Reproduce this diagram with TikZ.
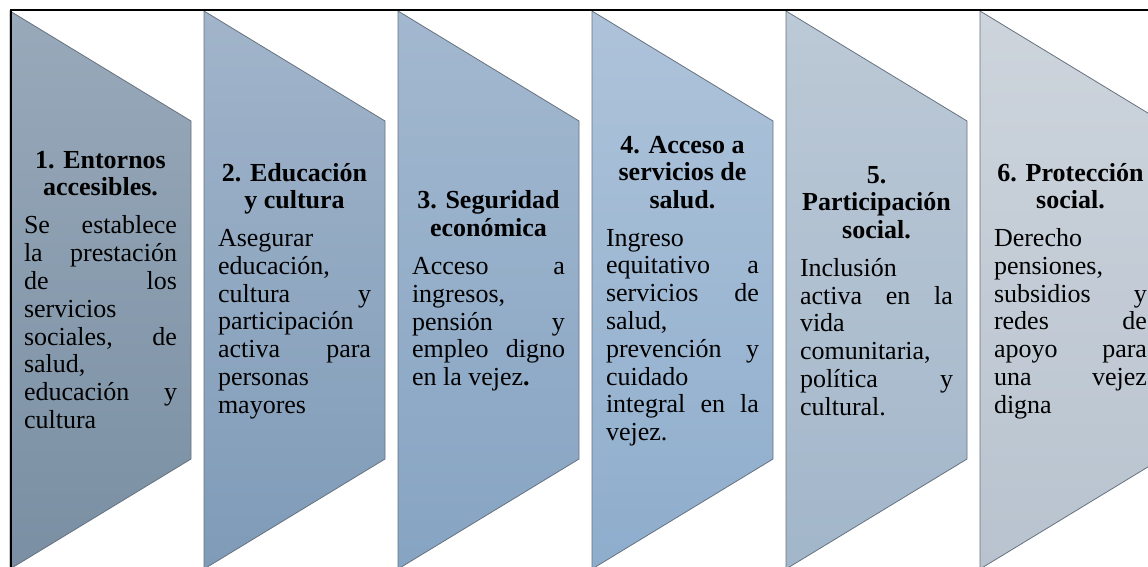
\documentclass[tikz,border=0pt]{standalone}
\usepackage{fontspec}
\setmainfont{Liberation Serif}
\setlength{\parindent}{0pt}
\definecolor{shapeline}{HTML}{66727F}
\definecolor{cAt}{HTML}{98A9BA}\definecolor{cAb}{HTML}{7A8FA3}
\definecolor{cBt}{HTML}{A1B4CA}\definecolor{cBb}{HTML}{7F9BB8}
\definecolor{cCt}{HTML}{A3B8CF}\definecolor{cCb}{HTML}{86A4C3}
\definecolor{cDt}{HTML}{AEC3DA}\definecolor{cDb}{HTML}{8EADCC}
\definecolor{cEt}{HTML}{BCC9D6}\definecolor{cEb}{HTML}{A2B6CA}
\definecolor{cFt}{HTML}{CDD4DC}\definecolor{cFb}{HTML}{B8C3CF}
\newcommand{\ttlpart}[1]{{\centering\bfseries\fontsize{26}{27.5}\selectfont #1\par}\vspace{10.2pt}}
\newcommand{\bdypart}[1]{{\fontsize{26}{27.8}\selectfont #1\par}}
\begin{document}
\begin{tikzpicture}[x=1pt,y=-1pt,
  shp/.style={draw=shapeline, line width=0.8pt},
  txt/.style={text width=153pt, inner sep=0pt, anchor=center, align=justify, font=\fontsize{26}{27.8}\selectfont}]
\useasboundingbox (0,0) rectangle (1148,566);
\clip (0,0) rectangle (1148,566);
\fill[white] (0,0) rectangle (1148,566);
% shapes
\shadedraw[shp, top color=cAt, bottom color=cAb] (10,11) -- (191,121) -- (191,459) -- (10,569) -- cycle;
\shadedraw[shp, top color=cBt, bottom color=cBb] (204,11) -- (385,121) -- (385,459) -- (204,569) -- cycle;
\shadedraw[shp, top color=cCt, bottom color=cCb] (398,11) -- (579,121) -- (579,459) -- (398,569) -- cycle;
\shadedraw[shp, top color=cDt, bottom color=cDb] (592,11) -- (773,121) -- (773,459) -- (592,569) -- cycle;
\shadedraw[shp, top color=cEt, bottom color=cEb] (786,11) -- (967,121) -- (967,459) -- (786,569) -- cycle;
\shadedraw[shp, top color=cFt, bottom color=cFb] (980,11) -- (1161,121) -- (1161,459) -- (980,569) -- cycle;
% frame
\draw[line width=2pt, black] (10.5,10) rectangle (1200,620);
% texts
\node[txt] (t1) at (100.5,290) {\ttlpart{1. Entornos\\accesibles.}\bdypart{Se\hfill establece\\la\hfill prestación\\de\hfill los\\servicios\\sociales,\hfill de\\salud,\\educación\hfill y\\cultura}};
\node[txt] (t2) at (294.5,291) {\ttlpart{2. Educación\\y cultura}\bdypart{Asegurar\\educación,\\cultura\hfill y\\participación\\activa\hfill para\\personas\\mayores}};
\node[txt] (t3) at (488.5,291) {\ttlpart{3. Seguridad\\económica}\bdypart{Acceso\hfill a\\ingresos,\\pensión\hfill y\\empleo\hfill digno\\en la vejez\textbf{.}}};
\node[txt] (t4) at (682.5,291) {\ttlpart{4. Acceso a\\servicios de\\salud.}\bdypart{Ingreso\\equitativo\hfill a\\servicios\hfill de\\salud,\\prevención\hfill y\\cuidado\\integral\hfill en\hfill la\\vejez.}};
\node[txt] (t5) at (876.5,291) {\ttlpart{5.\\Participación\\social.}\bdypart{Inclusión\\activa\hfill en\hfill la\\vida\\comunitaria,\\política\hfill y\\cultural.}};
\node[txt] (t6) at (1070.5,291) {\ttlpart{6. Protección\\social.}\bdypart{Derecho\\pensiones,\\subsidios\hfill y\\redes\hfill de\\apoyo\hfill para\\una\hfill vejez\\digna}};
\end{tikzpicture}
\end{document}
